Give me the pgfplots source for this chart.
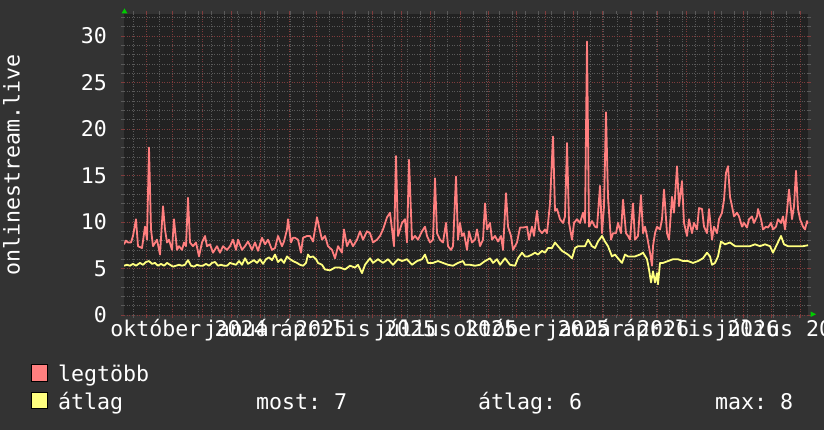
\documentclass[border=0pt]{standalone}
\usepackage{pgfplots}
\pgfplotsset{compat=1.18}
\usepackage{fontspec}
\setmainfont{DejaVu Sans Mono}
\frenchspacing

\definecolor{backc}{HTML}{333333}
\definecolor{canvasc}{HTML}{222222}
\definecolor{minc}{HTML}{5A5A5A}
\definecolor{majc}{HTML}{803C3C}
\definecolor{redc}{HTML}{FF7F7F}
\definecolor{yelc}{HTML}{FFFF7F}
\definecolor{arrowc}{HTML}{00CC00}

\begin{document}
\begin{tikzpicture}[x=1pt,y=1pt,font=\fontsize{21.6}{24}\selectfont]
\useasboundingbox (0,0) rectangle (824,430);
\fill[backc] (0,0) rectangle (824,430);

\begin{axis}[
  at={(124pt,115pt)}, anchor=south west,
  scale only axis, width=684pt, height=301pt,
  xmin=124, xmax=808, ymin=0, ymax=32.37,
  axis background/.style={fill=canvasc},
  axis line style={draw=none},
  % month lines
  xtick={146,172.7,202.7,231,260.3,289.7,316,342.3,372.3,401,430,460,488.3,516.7,545.3,573.3,602.7,631.3,657.3,686.7,714.3,743.3,771.7,800.7},
  xticklabels={},
  minor xtick={133.3,146.37,...,808},
  extra x ticks={188.5,275.5,358,445.5,531.5,617.5,701,786.5},
  extra x tick labels={október 2024,január 2025,április 2025,július 2025,október 2025,január 2026,április 2026,július 2026},
  extra x tick style={grid=none, major tick length=0pt},
  ytick={0,5,...,30},
  minor ytick={0,1,...,32},
  grid=both,
  major grid style={majc, line width=0.7pt, dash pattern=on 1pt off 1.5pt},
  minor grid style={minc, line width=0.7pt, dash pattern=on 1pt off 1.5pt},
  tick align=outside, major tick length=3pt, minor tick length=3pt,
  every major tick/.append style={majc, line width=0.8pt},
  every minor tick/.append style={minc, line width=0.8pt},
  /pgf/number format/assume math mode=true,
  tick label style={text=white, font=\fontsize{21.6}{24}\selectfont, inner sep=0pt},
  xticklabel style={anchor=base},
  xticklabel shift=22pt,
  yticklabel style={anchor=east},
  yticklabel shift=14pt,
]
% legtöbb
\addplot[redc, line width=1.8pt, line join=round] coordinates {
(124,7.6) (126,8.0) (128,7.8) (131,7.8) (133,8.5) (136,10.3) (138,7.4) (142,7.2)
(145,9.5) (147,8.1) (149,18.0) (151,9.2) (153,7.4) (157,8.1) (160,6.5) (163,11.7)
(165,9.2) (167,7.8) (169,8.1) (172,7.0) (174,10.3) (177,7.0) (179,7.4) (182,7.0)
(184,7.8) (186,7.4) (188,12.6) (190,7.8) (193,7.4) (196,7.8) (199,6.3) (202,7.8)
(205,8.5) (207,7.4) (210,7.6) (213,6.7) (217,7.4) (220,6.7) (223,7.4) (227,7.0)
(230,7.4) (233,8.1) (236,7.0) (238,8.1) (242,7.0) (245,7.4) (248,7.9) (252,7.0)
(255,7.8) (258,6.9) (262,8.3) (265,7.6) (268,8.1) (272,7.0) (275,7.2) (278,8.5)
(282,7.4) (284,7.9) (287,9.2) (288,10.3) (291,7.8) (293,8.3) (295,8.3) (298,8.1)
(301,6.7) (303,8.3) (307,8.5) (310,8.5) (313,7.9) (317,10.5) (319,9.5) (322,8.1)
(325,8.5) (328,7.4) (332,7.0) (335,6.1) (338,7.4) (342,6.7) (344,9.2) (347,7.4)
(350,8.1) (353,7.4) (357,8.1) (360,9.0) (363,8.1) (367,9.0) (370,8.8) (373,7.8)
(377,8.1) (380,8.5) (383,9.2) (387,10.5) (390,11.0) (392,9.2) (394,7.4) (396,17.1)
(398,8.5) (402,9.9) (405,10.3) (407,7.8) (409,16.7) (412,8.1) (415,8.5) (418,8.1)
(422,9.0) (425,9.5) (427,8.5) (430,7.8) (433,8.1) (435,14.7) (437,8.8) (440,8.1)
(443,7.8) (446,9.9) (448,7.4) (451,7.0) (453,7.4) (456,14.9) (458,8.1) (460,9.9)
(462,8.5) (464,8.8) (467,7.0) (469,9.0) (472,7.8) (475,8.1) (477,9.2) (480,7.4)
(483,8.1) (485,12.0) (487,9.2) (490,9.9) (492,8.1) (495,8.5) (498,7.9) (501,8.5)
(503,7.0) (506,13.1) (508,9.5) (511,8.5) (513,7.0) (517,7.8) (520,9.4) (523,9.4)
(527,9.5) (529,8.1) (532,9.5) (534,8.5) (537,11.2) (539,9.2) (542,8.8) (545,9.2)
(547,8.8) (550,12.0) (553,19.2) (555,11.2) (557,11.4) (560,10.3) (563,9.9) (565,10.6)
(567,18.5) (569,9.9) (572,8.1) (574,9.9) (577,10.3) (580,9.9) (583,11.0) (585,9.9)
(587,29.4) (589,9.5) (592,10.1) (595,9.5) (597,9.4) (600,13.9) (602,8.8) (604,11.7)
(606,21.8) (608,12.7) (610,9.5) (611,8.1) (613,8.8) (616,8.8) (618,9.9) (621,8.8)
(623,12.4) (626,8.8) (628,8.5) (630,8.1) (633,12.0) (635,8.1) (638,8.5) (641,12.9)
(643,8.8) (645,9.5) (647,8.5) (650,6.7) (652,5.3) (653,7.4) (655,8.8) (657,9.5)
(660,9.2) (662,10.3) (664,13.5) (667,8.8) (669,8.1) (672,12.7) (674,11.0) (677,16.0)
(679,11.7) (682,14.4) (684,9.9) (687,8.5) (689,10.3) (692,8.8) (694,9.9) (697,9.2)
(699,11.5) (702,11.4) (704,9.5) (707,8.8) (709,11.4) (712,8.1) (714,9.5) (717,8.8)
(719,10.3) (722,11.0) (724,12.4) (726,15.3) (728,16.0) (730,12.7) (732,11.7) (734,10.6)
(737,11.0) (739,10.6) (742,9.5) (744,9.9) (747,9.4) (749,10.3) (752,10.6) (754,9.9)
(757,10.6) (758,11.4) (761,10.3) (763,9.2) (766,9.5) (768,9.4) (771,9.9) (773,9.2)
(776,9.5) (778,10.3) (781,9.9) (783,10.6) (785,9.2) (787,11.2) (789,13.5) (792,10.3)
(794,11.7) (796,15.5) (798,11.4) (800,10.3) (803,9.5) (805,9.2) (807,10.1) (808,9.8)
};
% átlag
\addplot[yelc, line width=1.8pt, line join=round] coordinates {
(124,5.3) (127,5.4) (130,5.3) (133,5.5) (136,5.3) (140,5.6) (143,5.4) (146,5.7)
(149,5.8) (152,5.5) (155,5.6) (158,5.3) (161,5.5) (164,5.3) (167,5.6) (170,5.4)
(173,5.2) (176,5.3) (179,5.4) (182,5.3) (185,5.4) (188,5.9) (191,5.3) (194,5.2)
(197,5.4) (200,5.3) (203,5.3) (206,5.5) (209,5.3) (212,5.6) (215,5.7) (218,5.3)
(221,5.4) (224,5.3) (227,5.3) (230,5.6) (233,5.5) (236,5.4) (239,5.8) (242,5.4)
(245,6.1) (248,5.5) (251,5.7) (254,5.9) (257,5.6) (260,6.0) (263,5.5) (266,6.0)
(269,6.2) (272,5.9) (275,6.5) (278,5.7) (281,6.0) (284,5.6) (287,6.3) (290,6.0)
(293,5.8) (297,5.6) (300,5.4) (303,5.3) (306,5.6) (308,6.5) (310,6.2) (313,6.3)
(316,6.0) (318,5.6) (322,5.4) (325,4.9) (330,4.8) (335,5.1) (340,5.1) (345,4.9)
(350,5.3) (355,5.1) (358,5.4) (362,4.5) (365,5.4) (370,6.1) (373,5.6) (378,6.0)
(383,5.6) (388,6.0) (393,5.4) (398,6.0) (402,5.8) (407,6.0) (412,5.4) (417,5.8)
(422,6.0) (425,6.5) (428,5.6) (433,5.6) (438,5.8) (443,5.6) (448,5.4) (453,5.3)
(458,5.6) (463,5.8) (465,5.4) (470,5.4) (475,5.3) (480,5.4) (485,5.8) (490,6.1)
(493,5.6) (497,6.0) (500,5.4) (505,6.1) (510,5.4) (515,5.3) (518,6.1) (522,6.7)
(525,6.3) (528,6.3) (532,6.5) (535,6.7) (538,6.5) (542,6.9) (545,6.7) (548,7.2)
(552,7.2) (555,7.8) (558,7.4) (562,6.9) (565,6.7) (568,6.5) (572,6.1) (575,7.2)
(578,7.4) (582,7.4) (585,7.4) (588,8.1) (592,7.4) (595,7.2) (598,7.9) (602,8.5)
(605,7.9) (608,7.4) (612,6.3) (615,6.5) (618,6.1) (622,5.6) (625,6.5) (628,6.3)
(632,6.3) (635,6.3) (640,6.5) (643,6.7) (647,6.0) (649,4.9) (651,3.5) (653,4.7)
(655,3.5) (657,4.5) (658,3.3) (660,5.6) (663,5.6) (668,5.8) (673,6.0) (678,6.0)
(683,5.8) (688,5.8) (693,5.6) (698,5.8) (703,6.1) (707,6.7) (710,6.3) (712,5.4)
(715,5.6) (718,6.3) (721,7.9) (725,7.6) (730,7.8) (735,7.4) (740,7.4) (745,7.4)
(750,7.4) (755,7.6) (760,7.4) (765,7.6) (770,7.4) (773,6.7) (777,7.6) (781,8.5)
(784,7.6) (788,7.4) (793,7.4) (798,7.4) (803,7.4) (808,7.5)
};
\end{axis}

% axis arrows
\fill[arrowc] (121.5,416.5) -- (127.5,416.5) -- (124.5,421.5) -- cycle;
\fill[arrowc] (810.5,118.5) -- (810.5,113) -- (816,115.75) -- cycle;

% vertical title
\node[text=white, rotate=90, anchor=base, inner sep=0pt] at (19.5,265) {onlinestream.live};

% legend
\filldraw[fill=redc, draw=black, line width=1pt] (31.5,48) rectangle (47,65);
\filldraw[fill=yelc, draw=black, line width=1pt] (31.5,21) rectangle (47,37);
\node[text=white, anchor=base west, inner sep=0pt] at (58,48.3) {legtöbb};
\node[text=white, anchor=base west, inner sep=0pt] at (58,20.7) {átlag};
\node[text=white, anchor=base west, inner sep=0pt] at (256,20.7) {most: 7};
\node[text=white, anchor=base west, inner sep=0pt] at (478,20.7) {átlag: 6};
\node[text=white, anchor=base west, inner sep=0pt] at (715,20.7) {max: 8};
\end{tikzpicture}
\end{document}
